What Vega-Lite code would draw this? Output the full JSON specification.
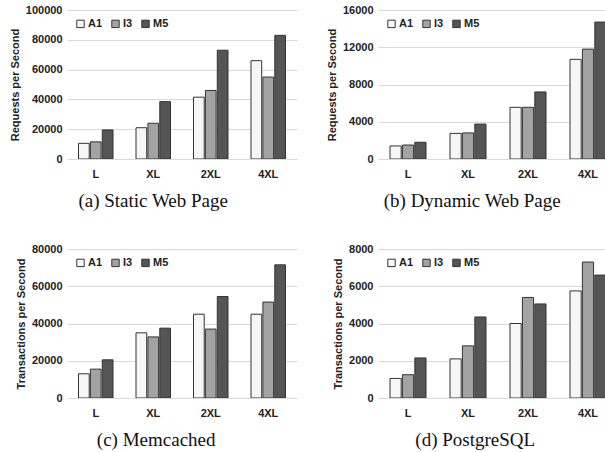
{
  "$schema": "https://vega.github.io/schema/vega-lite/v6.json",
  "padding": {"left": 9, "top": 4, "right": 0, "bottom": 2},
  "background": "white",
  "data": {"values": [
    {"panel": "a", "size": "L", "inst": "A1", "value": 10500},
    {"panel": "a", "size": "L", "inst": "I3", "value": 11500},
    {"panel": "a", "size": "L", "inst": "M5", "value": 19500},
    {"panel": "a", "size": "XL", "inst": "A1", "value": 21000},
    {"panel": "a", "size": "XL", "inst": "I3", "value": 24000},
    {"panel": "a", "size": "XL", "inst": "M5", "value": 38500},
    {"panel": "a", "size": "2XL", "inst": "A1", "value": 41500},
    {"panel": "a", "size": "2XL", "inst": "I3", "value": 46000},
    {"panel": "a", "size": "2XL", "inst": "M5", "value": 73000},
    {"panel": "a", "size": "4XL", "inst": "A1", "value": 66000},
    {"panel": "a", "size": "4XL", "inst": "I3", "value": 55000},
    {"panel": "a", "size": "4XL", "inst": "M5", "value": 83000},
    {"panel": "b", "size": "L", "inst": "A1", "value": 1400},
    {"panel": "b", "size": "L", "inst": "I3", "value": 1500},
    {"panel": "b", "size": "L", "inst": "M5", "value": 1800},
    {"panel": "b", "size": "XL", "inst": "A1", "value": 2750},
    {"panel": "b", "size": "XL", "inst": "I3", "value": 2800},
    {"panel": "b", "size": "XL", "inst": "M5", "value": 3750},
    {"panel": "b", "size": "2XL", "inst": "A1", "value": 5550},
    {"panel": "b", "size": "2XL", "inst": "I3", "value": 5550},
    {"panel": "b", "size": "2XL", "inst": "M5", "value": 7200},
    {"panel": "b", "size": "4XL", "inst": "A1", "value": 10700},
    {"panel": "b", "size": "4XL", "inst": "I3", "value": 11800},
    {"panel": "b", "size": "4XL", "inst": "M5", "value": 14700},
    {"panel": "c", "size": "L", "inst": "A1", "value": 13000},
    {"panel": "c", "size": "L", "inst": "I3", "value": 15500},
    {"panel": "c", "size": "L", "inst": "M5", "value": 20500},
    {"panel": "c", "size": "XL", "inst": "A1", "value": 35000},
    {"panel": "c", "size": "XL", "inst": "I3", "value": 32800},
    {"panel": "c", "size": "XL", "inst": "M5", "value": 37500},
    {"panel": "c", "size": "2XL", "inst": "A1", "value": 45000},
    {"panel": "c", "size": "2XL", "inst": "I3", "value": 37000},
    {"panel": "c", "size": "2XL", "inst": "M5", "value": 54500},
    {"panel": "c", "size": "4XL", "inst": "A1", "value": 45000},
    {"panel": "c", "size": "4XL", "inst": "I3", "value": 51500},
    {"panel": "c", "size": "4XL", "inst": "M5", "value": 71500},
    {"panel": "d", "size": "L", "inst": "A1", "value": 1050},
    {"panel": "d", "size": "L", "inst": "I3", "value": 1250},
    {"panel": "d", "size": "L", "inst": "M5", "value": 2150},
    {"panel": "d", "size": "XL", "inst": "A1", "value": 2100},
    {"panel": "d", "size": "XL", "inst": "I3", "value": 2800},
    {"panel": "d", "size": "XL", "inst": "M5", "value": 4350},
    {"panel": "d", "size": "2XL", "inst": "A1", "value": 4000},
    {"panel": "d", "size": "2XL", "inst": "I3", "value": 5400},
    {"panel": "d", "size": "2XL", "inst": "M5", "value": 5050},
    {"panel": "d", "size": "4XL", "inst": "A1", "value": 5750},
    {"panel": "d", "size": "4XL", "inst": "I3", "value": 7300},
    {"panel": "d", "size": "4XL", "inst": "M5", "value": 6600}
  ]},
  "columns": 2,
  "spacing": {"column": 29, "row": 32},
  "concat": [
    {
      "width": 230, "height": 149,
      "title": {"text": "(a) Static Web Page"},
      "transform": [{"filter": "datum.panel == 'a'"}],
      "mark": {"type": "bar", "stroke": "#333333", "strokeWidth": 1, "clip": true},
      "encoding": {
        "x": {"field": "size", "type": "nominal", "sort": ["L", "XL", "2XL", "4XL"], "title": null,
              "scale": {"paddingInner": 0.4, "paddingOuter": 0.2}},
        "xOffset": {"field": "inst", "type": "nominal", "sort": ["A1", "I3", "M5"], "scale": {"paddingInner": 0.1}},
        "y": {"field": "value", "type": "quantitative", "title": "Requests per Second",
              "scale": {"domain": [0, 100000]},
              "axis": {"values": [0, 20000, 40000, 60000, 80000, 100000], "format": "d"}},
        "fill": {"field": "inst", "type": "nominal", "sort": ["A1", "I3", "M5"],
                 "scale": {"domain": ["A1", "I3", "M5"], "range": ["#f6f6f6", "#a3a3a3", "#555555"]},
                 "legend": {"title": null}}
      }
    },
    {
      "width": 228, "height": 149,
      "title": {"text": "(b) Dynamic Web Page"},
      "transform": [{"filter": "datum.panel == 'b'"}],
      "mark": {"type": "bar", "stroke": "#333333", "strokeWidth": 1, "clip": true},
      "encoding": {
        "x": {"field": "size", "type": "nominal", "sort": ["L", "XL", "2XL", "4XL"], "title": null,
              "scale": {"paddingInner": 0.4, "paddingOuter": 0.2, "range": [0, 240]}},
        "xOffset": {"field": "inst", "type": "nominal", "sort": ["A1", "I3", "M5"], "scale": {"paddingInner": 0.1}},
        "y": {"field": "value", "type": "quantitative", "title": "Requests per Second",
              "scale": {"domain": [0, 16000]},
              "axis": {"values": [0, 4000, 8000, 12000, 16000], "format": "d"}},
        "fill": {"field": "inst", "type": "nominal", "sort": ["A1", "I3", "M5"],
                 "scale": {"domain": ["A1", "I3", "M5"], "range": ["#f6f6f6", "#a3a3a3", "#555555"]},
                 "legend": {"title": null}}
      }
    },
    {
      "width": 230, "height": 149,
      "title": {"text": "(c) Memcached"},
      "transform": [{"filter": "datum.panel == 'c'"}],
      "mark": {"type": "bar", "stroke": "#333333", "strokeWidth": 1, "clip": true},
      "encoding": {
        "x": {"field": "size", "type": "nominal", "sort": ["L", "XL", "2XL", "4XL"], "title": null,
              "scale": {"paddingInner": 0.4, "paddingOuter": 0.2}},
        "xOffset": {"field": "inst", "type": "nominal", "sort": ["A1", "I3", "M5"], "scale": {"paddingInner": 0.1}},
        "y": {"field": "value", "type": "quantitative", "title": "Transactions per Second",
              "scale": {"domain": [0, 80000]},
              "axis": {"values": [0, 20000, 40000, 60000, 80000], "format": "d"}},
        "fill": {"field": "inst", "type": "nominal", "sort": ["A1", "I3", "M5"],
                 "scale": {"domain": ["A1", "I3", "M5"], "range": ["#f6f6f6", "#a3a3a3", "#555555"]},
                 "legend": {"title": null}}
      }
    },
    {
      "width": 228, "height": 149,
      "title": {"text": "(d) PostgreSQL"},
      "transform": [{"filter": "datum.panel == 'd'"}],
      "mark": {"type": "bar", "stroke": "#333333", "strokeWidth": 1, "clip": true},
      "encoding": {
        "x": {"field": "size", "type": "nominal", "sort": ["L", "XL", "2XL", "4XL"], "title": null,
              "scale": {"paddingInner": 0.4, "paddingOuter": 0.2, "range": [0, 240]}},
        "xOffset": {"field": "inst", "type": "nominal", "sort": ["A1", "I3", "M5"], "scale": {"paddingInner": 0.1}},
        "y": {"field": "value", "type": "quantitative", "title": "Transactions per Second",
              "scale": {"domain": [0, 8000]},
              "axis": {"values": [0, 2000, 4000, 6000, 8000], "format": "d"}},
        "fill": {"field": "inst", "type": "nominal", "sort": ["A1", "I3", "M5"],
                 "scale": {"domain": ["A1", "I3", "M5"], "range": ["#f6f6f6", "#a3a3a3", "#555555"]},
                 "legend": {"title": null}}
      }
    }
  ],
  "resolve": {"scale": {"x": "independent", "y": "independent", "xOffset": "independent", "fill": "independent"}, "legend": {"fill": "independent"}},
  "config": {
    "view": {"stroke": null},
    "font": "Liberation Sans",
    "title": {"orient": "bottom", "anchor": "middle", "frame": "bounds", "font": "Liberation Serif", "fontSize": 19, "fontWeight": "normal", "color": "#111", "offset": 13},
    "axis": {"labelFont": "Liberation Sans", "labelFontWeight": "bold", "labelFontSize": 11, "labelColor": "#222",
             "titleFont": "Liberation Sans", "titleFontWeight": "bold", "titleFontSize": 11, "titleColor": "#222",
             "ticks": false, "domain": false, "gridColor": "#d9d9d9", "gridWidth": 1},
    "axisX": {"grid": false, "labelPadding": 9, "labelAngle": 0},
    "axisY": {"labelPadding": 5, "titlePadding": 5},
    "legend": {"orient": "top-left", "direction": "horizontal", "offset": 8, "padding": 0,
               "labelFont": "Liberation Sans", "labelFontWeight": "bold", "labelFontSize": 11, "labelColor": "#222",
               "symbolType": "square", "symbolSize": 55, "symbolStrokeColor": "#333333", "symbolStrokeWidth": 1,
               "labelOffset": 2, "columnPadding": 6, "symbolOpacity": 1}
  }
}
